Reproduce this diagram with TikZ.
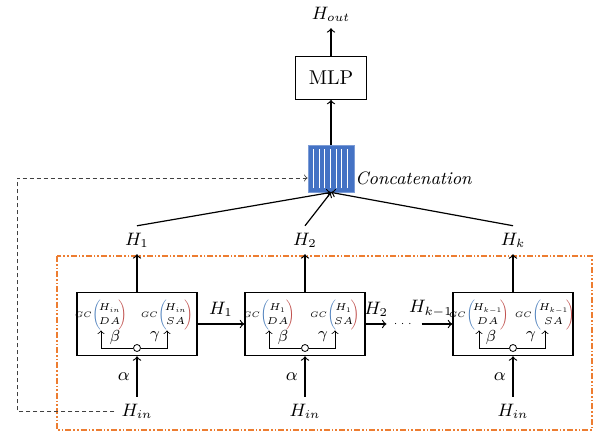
\RequirePackage{fix-cm}
\documentclass[tikz,border=0pt]{standalone}
\usepackage{tikz}
\usepackage{amsmath}
\usepackage{amssymb}
\usepackage{color}

\definecolor{concatblue}{RGB}{68,114,196}
\definecolor{frameorange}{RGB}{237,125,49}
\definecolor{parblue}{RGB}{79,129,189}
\definecolor{parred}{RGB}{192,80,77}

\DeclareMathSizes{5}{5}{3.5}{2.5}
\newcommand{\gcrows}[2]{\renewcommand{\arraystretch}{1.15}\begin{matrix}#1\\#2\end{matrix}}
\newcommand{\gcterm}[2]{$\scalebox{0.8}{$GC$}\textcolor{parblue}{\left(\vphantom{\gcrows{#1}{#2}}\right.}\!\!\gcrows{#1}{#2}\!\!\textcolor{parred}{\left.\vphantom{\gcrows{#1}{#2}}\right)}$}

\begin{document}
\begin{tikzpicture}[x=0.5pt, y=-0.5pt,
	blk/.style={draw, line width=0.8pt, minimum width=60pt, minimum height=31.5pt, inner sep=0pt},
	gc/.style={font=\fontsize{5}{6}\selectfont, inner sep=0pt},
	knot/.style={circle, draw, thin, fill=white, inner sep=0pt, minimum size=3.5pt},
	lbl/.style={font=\small}]
	\useasboundingbox (0,0) rectangle (600,434);
	\node[lbl] (hout) at (331,14) {$H_{out}$};
	\node[draw, thin, minimum width=35.5pt, minimum height=21.5pt] (mlp) at (331,78) {MLP};
	\node[fill=concatblue, draw=concatblue!70!white, minimum width=23pt, minimum height=23.5pt, inner sep=0pt] (concat) at (331,168.5) {};
	\foreach \s in {0,...,6}
		\draw[white, line width=0.5pt] ([xshift=3pt+\s*2.83pt, yshift=2pt]concat.south west) -- ([xshift=3pt+\s*2.83pt, yshift=-2pt]concat.north west);
	\node[font=\small\itshape, anchor=west, inner sep=0pt] (concatlbl) at (355,178) {Concatenation};
	\draw[semithick, ->] (concat.north) -- (mlp.south);
	\draw[semithick, ->] (mlp.north) -- (hout.south);

	\node[lbl] (h1) at (137,240) {$H_1$};
	\node[lbl] (h2) at (305,240) {$H_2$};
	\node[lbl] (hk) at (513,240) {$H_k$};
	\draw[semithick, ->] (h1.north) -- (concat.south);
	\draw[semithick, ->] (h2.north) -- (concat.south);
	\draw[semithick, ->] (hk.north) -- (concat.south);

	\draw[frameorange, line width=0.7pt, dash pattern=on 3pt off 1pt on 0.8pt off 1pt on 0.8pt off 1pt] (57,256) rectangle (592,430);

	\node[blk] (b1) at (137,324) {};
	\node[blk] (b2) at (305,324) {};
	\node[blk] (b3) at (513,324) {};
	\draw[semithick, ->] (b1.north) -- (h1.south);
	\draw[semithick, ->] (b2.north) -- (h2.south);
	\draw[semithick, ->] (b3.north) -- (hk.south);

	\node[gc] (gl1) at (101,315) {\gcterm{H_{in}}{DA}};
	\node[gc] (gr1) at (167,315) {\gcterm{H_{in}}{SA}};
	\node[knot] (c1) at (137,348) {};
	\draw[thin, ->] (c1.west) -| (gl1.south);
	\draw[thin, ->] (c1.east) -| (gr1.south);
	\node[font=\footnotesize] (be1) at (115,337) {$\beta$};
	\node[font=\footnotesize] (ga1) at (155,337) {$\gamma$};

	\node[gc] (gl2) at (269,315) {\gcterm{H_1}{DA}};
	\node[gc] (gr2) at (335,315) {\gcterm{H_1}{SA}};
	\node[knot] (c2) at (305,348) {};
	\draw[thin, ->] (c2.west) -| (gl2.south);
	\draw[thin, ->] (c2.east) -| (gr2.south);
	\node[font=\footnotesize] (be2) at (283,337) {$\beta$};
	\node[font=\footnotesize] (ga2) at (323,337) {$\gamma$};

	\node[gc] (gl3) at (479,315) {\gcterm{H_{k-1}}{DA}};
	\node[gc] (gr3) at (545,315) {\gcterm{H_{k-1}}{SA}};
	\node[knot] (c3) at (513,348) {};
	\draw[thin, ->] (c3.west) -| (gl3.south);
	\draw[thin, ->] (c3.east) -| (gr3.south);
	\node[font=\footnotesize] (be3) at (491,337) {$\beta$};
	\node[font=\footnotesize] (ga3) at (531,337) {$\gamma$};

	\draw[semithick, ->] (b1.east) -- node[lbl, above] (lh1) {$H_1$} (b2.west);
	\node[font=\tiny] (dots) at (404,324) {$\cdots$};
	\draw[semithick, ->] (b2.east) -- node[lbl, above] (lh2) {$H_2$} (dots.west);
	\draw[semithick, ->] (dots.east) -- node[lbl, above, xshift=-3pt] (lhk) {$H_{k-1}$} (b3.west);

	\node[lbl] (hin1) at (137,411) {$H_{in}$};
	\node[lbl] (hin2) at (305,411) {$H_{in}$};
	\node[lbl] (hin3) at (513,411) {$H_{in}$};
	\draw[semithick, ->] (hin1.north) -- node[lbl, left, pos=0.5] (al1) {$\alpha$} (b1.south);
	\draw[semithick, ->] (hin2.north) -- node[lbl, left, pos=0.5] (al2) {$\alpha$} (b2.south);
	\draw[semithick, ->] (hin3.north) -- node[lbl, left, pos=0.5] (al3) {$\alpha$} (b3.south);

	\coordinate (fbcorner) at (17,178);
	\draw[thin, darkgray, dash pattern=on 2pt off 1.5pt, ->] (hin1.west) -| (fbcorner) -- (concat.west |- fbcorner);
\end{tikzpicture}
\end{document}
